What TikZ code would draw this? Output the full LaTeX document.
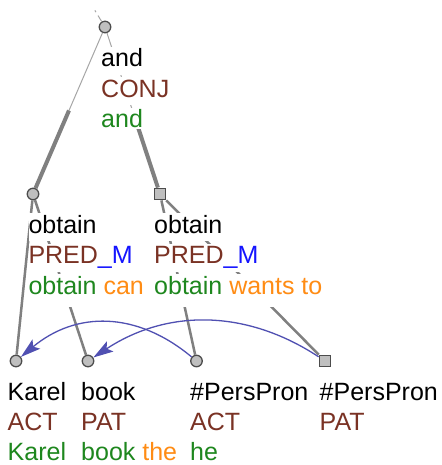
\documentclass[tikz,border=0pt]{standalone}
\usepackage{fontspec}
\setmainfont{Liberation Sans}
\usetikzlibrary{arrows.meta,calc}
\definecolor{fun}{RGB}{122,50,36}
\definecolor{grn}{RGB}{30,135,30}
\definecolor{org}{RGB}{255,140,20}
\definecolor{blu}{RGB}{20,20,255}
\definecolor{arcc}{RGB}{80,80,178}
\begin{document}
\begin{tikzpicture}[x=1pt,y=-1pt,
  tnode/.style={circle, draw=black!70, fill=black!25, line width=1.3pt, minimum size=11.5pt, inner sep=0},
  snode/.style={rectangle, draw=black!70, fill=black!25, line width=1.3pt, minimum size=11.5pt, inner sep=0},
  lbl/.style={anchor=base west, fill=white, inner sep=0, text height=20pt, text depth=8pt, font=\fontsize{25}{25}\selectfont},
  lastlbl/.style={lbl, text depth=13pt},
  rootlast/.style={lbl, text depth=1pt},
  botlbl/.style={lbl, text depth=0pt},
  thinedge/.style={draw=black!35, line width=1pt},
  thickedge/.style={draw=black!50, line width=4pt},
  edge/.style={draw=black!50, line width=2.5pt},
  stubedge/.style={draw=black!35, line width=1pt, dash pattern=on 7pt off 4pt on 2pt off 10pt},
  arcedge/.style={draw=arcc, line width=1.3pt, -{Stealth[length=20pt,width=12pt,inset=4pt]}}
]
\fill[white] (0,0) rectangle (441,465);
\useasboundingbox (0,0) rectangle (441,465);

% tree nodes
\node[tnode] (root) at (105,27) {};
\node[tnode] (o1) at (33,194) {};
\node[snode] (o2) at (160,194) {};
\node[tnode] (k) at (16,361) {};
\node[tnode] (b) at (88,361) {};
\node[tnode] (p1) at (196.5,361) {};
\node[snode] (p2) at (325,361) {};
\coordinate (stub) at (94,9);

% edges
\draw[stubedge] (root) -- (stub);
\coordinate (m1) at ($(root)!0.5!(o1)$);
\coordinate (m2) at ($(root)!0.5!(o2)$);
\draw[thinedge] (root) -- (m1);
\draw[thickedge] (m1) -- (o1);
\draw[thinedge] (root) -- (m2);
\draw[thickedge] (m2) -- (o2);
\draw[edge] (o1) -- (k);
\draw[edge] (o1) -- (b);
\draw[edge] (o2) -- (p1);
\draw[edge] (o2) -- (p2);

% labels
\node[lbl] (r1) at (101,67) {and};
\node[lbl, text=fun] (r2) at (101,97.5) {CONJ};
\node[rootlast, text=grn] (r3) at (101,128) {and};

\node[lbl] (a1) at (28.3,233) {obtain};
\node[lbl] (a2) at (28.3,263.5) {\textcolor{fun}{PRED}\textcolor{blu}{\_M}};
\node[lastlbl] (a3) at (28.3,294) {\textcolor{grn}{obtain} \textcolor{org}{can}};

\node[lbl] (c1) at (154,233) {obtain};
\node[lbl] (c2) at (154,263.5) {\textcolor{fun}{PRED}\textcolor{blu}{\_M}};
\node[lastlbl] (c3) at (154,294) {\textcolor{grn}{obtain} \textcolor{org}{wants to}};

\node[lbl] (k1) at (7.5,400.5) {Karel};
\node[lbl, text=fun] (k2) at (7.5,430.5) {ACT};
\node[botlbl, text=grn] (k3) at (7.5,460.5) {Karel};

\node[lbl] (b1) at (81,400.5) {book};
\node[lbl, text=fun] (b2) at (81,430.5) {PAT};
\node[botlbl] (b3) at (81,460.5) {\textcolor{grn}{book} \textcolor{org}{the}};

\node[lbl] (q1) at (190,400.5) {\#PersPron};
\node[lbl, text=fun] (q2) at (190,430.5) {ACT};
\node[botlbl, text=grn] (q3) at (190,460.5) {he};

\node[lbl] (s1) at (319.5,400.5) {\#PersPron};
\node[lbl, text=fun] (s2) at (319.5,430.5) {PAT};

% coreference arcs
\draw[arcedge] (p1) .. controls +(-60,-50) and +(60,-50) .. (k);
\draw[arcedge] (p2) .. controls +(-79,-52) and +(79,-52) .. (b);
\end{tikzpicture}
\end{document}
